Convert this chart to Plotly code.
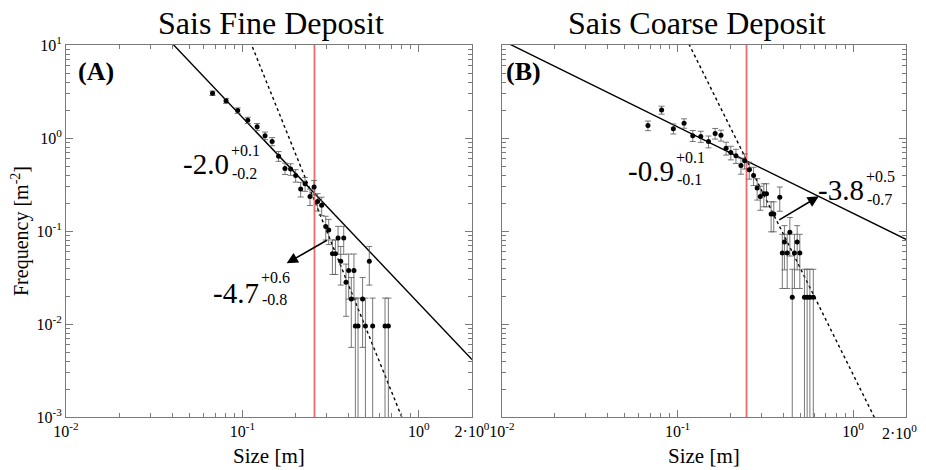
import numpy as np
import plotly.graph_objects as go

# ---------------- data ----------------
size_A = [0.0677, 0.0807, 0.0940, 0.1072, 0.1211, 0.1343, 0.1473, 0.1603, 0.1742, 0.1875,
          0.2003, 0.2138, 0.2265, 0.2415, 0.2547, 0.2667, 0.2812, 0.2965, 0.3083, 0.3236,
          0.3365, 0.3483, 0.3750, 0.3606, 0.3864, 0.4000, 0.4285, 0.4140, 0.4797, 0.5236,
          0.4365, 0.4519, 0.4977, 0.5470, 0.6427, 0.6714]
freq_A = [3.03, 2.51, 1.97, 1.55, 1.32, 1.06, 0.917, 0.638, 0.471, 0.463,
          0.396, 0.283, 0.322, 0.235, 0.297, 0.208, 0.189, 0.112, 0.1025, 0.0571,
          0.0571, 0.0841, 0.0841, 0.0472, 0.0281, 0.0375, 0.0375, 0.0186, 0.0186, 0.0472,
          0.0095, 0.0095, 0.0095, 0.0095, 0.0095, 0.0095]
err_A = [0.168, 0.153, 0.135, 0.120, 0.111, 0.099, 0.092, 0.077, 0.066, 0.066,
         0.061, 0.051, 0.055, 0.047, 0.053, 0.044, 0.042, 0.032, 0.031, 0.023,
         0.023, 0.028, 0.028, 0.021, 0.016, 0.019, 0.019, 0.013, 0.013, 0.021,
         0.0095, 0.0095, 0.0095, 0.0095, 0.0095, 0.0095]

size_B = [0.0678, 0.0811, 0.0946, 0.1089, 0.122, 0.1356, 0.150, 0.1637, 0.1766, 0.189,
          0.201, 0.215, 0.2296, 0.241, 0.256, 0.271, 0.284, 0.296, 0.310, 0.321,
          0.341, 0.353, 0.382, 0.406, 0.421, 0.436, 0.395, 0.463, 0.480, 0.497,
          0.450, 0.528, 0.547, 0.567, 0.593]
freq_B = [1.36, 2.00, 1.26, 1.44, 1.06, 1.04, 0.917, 1.12, 1.07, 0.778,
          0.698, 0.644, 0.507, 0.569, 0.455, 0.396, 0.290, 0.235, 0.252, 0.252,
          0.152, 0.152, 0.230, 0.0762, 0.0581, 0.0968, 0.0581, 0.0581, 0.0762, 0.0581,
          0.0194, 0.0194, 0.0194, 0.0194, 0.0194]
err_B = [0.162, 0.197, 0.156, 0.167, 0.143, 0.142, 0.133, 0.147, 0.144, 0.123,
         0.116, 0.112, 0.099, 0.105, 0.094, 0.088, 0.075, 0.068, 0.070, 0.070,
         0.054, 0.054, 0.067, 0.038, 0.034, 0.043, 0.034, 0.034, 0.038, 0.034,
         0.0194, 0.0194, 0.0194, 0.0194, 0.0194]

# power-law fits: (exponent, log10 prefactor)
fit_A_small = (-2.0, -1.779)
fit_A_large = (-4.7, -3.456)
fit_B_small = (-0.93, -0.810)
fit_B_large = (-3.8, -2.544)
fit_x = [0.01, 2.0]

threshold_A = 0.256
threshold_B = 0.247

arrow_A = dict(tail=(0.307, 0.0813), head=(0.178, 0.0449))
arrow_B = dict(tail=(0.372, 0.129), head=(0.638, 0.236))

titles = ["Sais Fine Deposit", "Sais Coarse Deposit"]
panel_labels = ["(A)", "(B)"]
x_tickvals = [0.01, 0.1, 1, 2]
x_ticktext = ["10<sup>-2</sup>", "10<sup>-1</sup>", "10<sup>0</sup>", "2·10<sup>0</sup>"]
y_tickvals = [0.001, 0.01, 0.1, 1, 10]
y_ticktext = ["10<sup>-3</sup>", "10<sup>-2</sup>", "10<sup>-1</sup>", "10<sup>0</sup>", "10<sup>1</sup>"]

# ---------------- figure ----------------
W, H = 926, 470
OFF = 8  # page body margin
FONT = "Liberation Serif"

def px(x):
    return (x - OFF) / W

def py(y):
    return 1 - (y - OFF) / H

fig = go.Figure()

def add_panel(xs, ys, es, fits, thr, xa, ya):
    for (k, la), dash in zip(fits, ["solid", "3px,3px"]):
        fx = np.array(fit_x)
        fig.add_trace(go.Scatter(x=fx, y=10 ** la * fx ** k, mode="lines",
                                 line=dict(color="black", width=1.4, dash=dash),
                                 xaxis=xa, yaxis=ya, hoverinfo="skip"))
    fig.add_trace(go.Scatter(x=[thr, thr], y=[1e-3, 1e1], mode="lines",
                             line=dict(color="#f06a6a", width=1.8),
                             xaxis=xa, yaxis=ya, hoverinfo="skip"))
    fig.add_trace(go.Scatter(x=xs, y=ys, mode="markers",
                             marker=dict(color="black", size=5),
                             error_y=dict(type="data", array=es, symmetric=True,
                                          color="#555555", thickness=0.8, width=3),
                             xaxis=xa, yaxis=ya))

add_panel(size_A, freq_A, err_A, [fit_A_small, fit_A_large], threshold_A, "x", "y")
add_panel(size_B, freq_B, err_B, [fit_B_small, fit_B_large], threshold_B, "x2", "y2")

minor_x = [m * 10.0 ** e for e in (-2, -1, 0) for m in range(2, 10) if m * 10.0 ** e < 2]
minor_y = [m * 10.0 ** e for e in (-3, -2, -1, 0) for m in range(2, 10)]

axis_common = dict(type="log", showgrid=False, zeroline=False, showline=True,
                   linecolor="#7a7a7a", linewidth=1, mirror="ticks",
                   ticks="inside", ticklen=7, tickcolor="#7a7a7a", tickwidth=1,
                   automargin=False,
                   tickfont=dict(family=FONT, size=16, color="black"))

xdom_A = [px(66), px(472)]
xdom_B = [px(502), px(906)]
ydom = [py(417), py(45)]

xaxis_kw = dict(axis_common, range=[-2, np.log10(2)], tickmode="array",
                tickvals=x_tickvals,
                minor=dict(tickvals=minor_x, ticks="inside", ticklen=4,
                           tickcolor="#7a7a7a"))
fig.update_layout(
    xaxis=dict(xaxis_kw, domain=xdom_A, anchor="y", ticktext=x_ticktext),
    # the right-most label of panel B is drawn as an annotation so it stays inside the page
    xaxis2=dict(xaxis_kw, domain=xdom_B, anchor="y2", ticktext=x_ticktext[:-1] + [""]),
    yaxis=dict(axis_common, range=[-3, 1], domain=ydom, anchor="x",
               tickmode="array", tickvals=y_tickvals, ticktext=y_ticktext,
               minor=dict(tickvals=minor_y, ticks="inside", ticklen=4, tickcolor="#7a7a7a")),
    yaxis2=dict(axis_common, range=[-3, 1], domain=ydom, anchor="x2",
                tickmode="array", tickvals=y_tickvals, showticklabels=False,
                minor=dict(tickvals=minor_y, ticks="inside", ticklen=4, tickcolor="#7a7a7a")),
)

def txt(text, x, y, size, xanchor="center", **kw):
    return dict(text=text, x=px(x), y=py(y), xref="paper", yref="paper",
                xanchor=xanchor, yanchor="middle", showarrow=False,
                font=dict(family=FONT, size=size, color="black"), **kw)

ann = []
for t, cx in zip(titles, [271, 697]):
    ann.append(txt(t, cx, 23, 32))
for t, lx in zip(panel_labels, [76, 504]):
    ann.append(txt("<b>%s</b>" % t, lx, 72, 26, xanchor="left"))
for cx in [269, 704]:
    ann.append(txt("Size [m]", cx, 456, 21))
ann.append(txt("Frequency [m<sup>-2</sup>]", 21, 231, 20, textangle=-90))
ann.append(txt(x_ticktext[-1], 919, 432, 16, xanchor="right"))

# exponent labels: (main, sup, sub, x_right_of_main, y_main, y_sup, y_sub)
exp_labels = [("-2.0", "+0.1", "-0.2", 231, 164, 151, 174),
              ("-4.7", "+0.6", "-0.8", 261, 293, 277, 299),
              ("-0.9", "+0.1", "-0.1", 676, 171, 157, 179),
              ("-3.8", "+0.5", "-0.7", 866, 190, 176, 199)]
for main, sup, sub, xr, ym, ys, yb in exp_labels:
    ann.append(txt(main, xr, ym, 29, xanchor="right"))
    ann.append(txt(sup, xr - 2, ys, 16, xanchor="left"))
    ann.append(txt(sub, xr - 1, yb, 16, xanchor="left"))

for a, xa, ya in [(arrow_A, "x", "y"), (arrow_B, "x2", "y2")]:
    ann.append(dict(x=np.log10(a["head"][0]), y=np.log10(a["head"][1]),
                    ax=np.log10(a["tail"][0]), ay=np.log10(a["tail"][1]),
                    xref=xa, yref=ya, axref=xa, ayref=ya, text="",
                    showarrow=True, arrowhead=2, arrowsize=1.4, arrowwidth=1.6,
                    arrowcolor="black"))

fig.update_layout(width=W, height=H, margin=dict(l=0, r=0, t=0, b=0, pad=0),
                  autosize=False,
                  paper_bgcolor="white", plot_bgcolor="white",
                  showlegend=False, annotations=ann)

fig.write_html("out.html")
